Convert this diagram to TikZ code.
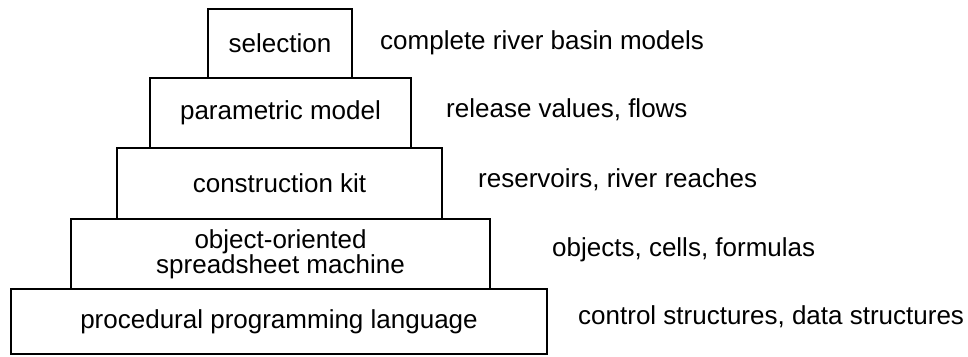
\documentclass[tikz,border=0pt]{standalone}
\usepackage{fontspec}
\setmainfont{Liberation Sans}
\begin{document}
\begin{tikzpicture}[x=1pt,y=-1pt,
  layer/.style={draw=black, line width=2pt, rectangle, inner sep=0pt,
    font=\fontsize{26}{21.5}\selectfont, align=center},
  lbl/.style={anchor=west, inner sep=0pt, font=\fontsize{26}{21.5}\selectfont,
    text height=19pt, text depth=5pt}]
\path[use as bounding box] (0,0) rectangle (968,356);
\node[layer, minimum width=144pt, minimum height=69pt] (sel) at (280,43.5) {selection};
\node[layer, minimum width=261pt, minimum height=70pt] (par) at (280.5,113) {parametric model};
\node[layer, minimum width=325pt, minimum height=71pt] (con) at (279.5,183.5) {construction kit};
\node[layer, minimum width=419pt, minimum height=70pt] (obj) at (280.5,254) {object-oriented\\spreadsheet machine};
\node[layer, minimum width=536pt, minimum height=65pt] (pro) at (279,321.5) {procedural programming language};
\node[lbl] (lsel) at (380,42) {complete river basin models};
\node[lbl] (lpar) at (446,110) {release values, flows};
\node[lbl] (lcon) at (478,180) {reservoirs, river reaches};
\node[lbl] (lobj) at (552,249) {objects, cells, formulas};
\node[lbl] (lpro) at (578,317) {control structures, data structures};
\end{tikzpicture}
\end{document}
